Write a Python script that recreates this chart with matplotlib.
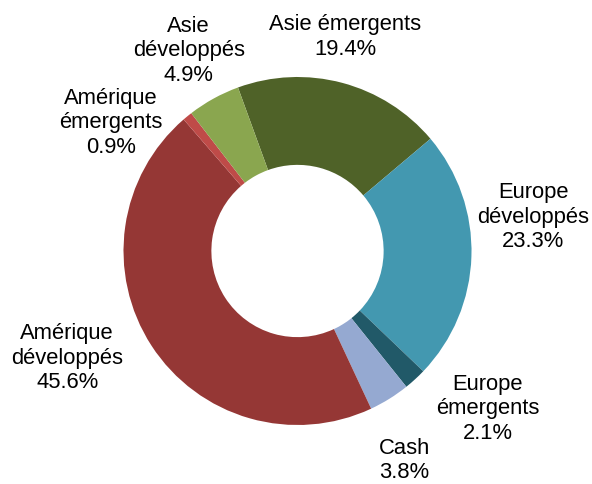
import matplotlib
matplotlib.use("Agg")
import matplotlib.pyplot as plt
import numpy as np

categories = ["Asie émergents", "Europe développés", "Europe émergents", "Cash",
              "Amérique développés", "Amérique émergents", "Asie développés"]
values = [19.4, 23.3, 2.1, 3.8, 45.6, 0.9, 4.9]
label_texts = ["Asie émergents\n19.4%", "Europe\ndéveloppés\n23.3%", "Europe\némergents\n2.1%",
               "Cash\n3.8%", "Amérique\ndéveloppés\n45.6%", "Amérique\némergents\n0.9%",
               "Asie\ndéveloppés\n4.9%"]
colors = ["#4F6228", "#4398B0", "#215968", "#95A9D1", "#953735", "#BF4B48", "#8AA64F"]

# label placement (angle in degrees, distance in radii)
label_pos = [(77.5, 1.26), (8.2, 1.37), (-39.7, 1.42), (-63.0, 1.35),
             (205.0, 1.46), (145.5, 1.30), (118.5, 1.31)]

plt.rcParams['font.family'] = ['Liberation Sans', 'DejaVu Sans']

fig = plt.figure(figsize=(5.92, 4.84), dpi=100)
ax = fig.add_axes([0, 0, 1, 1])
R = 174.0
cx, cy = 297.5, 251.0

ax.pie(values, colors=colors, startangle=110, counterclock=False, radius=1.0,
       wedgeprops=dict(width=0.505, edgecolor='none', linewidth=0))
ax.set_xlim(-cx / R, (592 - cx) / R)
ax.set_ylim(-(484 - cy) / R, cy / R)
ax.set_aspect('equal')
ax.axis('off')

for txt, (ang, d) in zip(label_texts, label_pos):
    a = np.deg2rad(ang)
    ax.text(d * np.cos(a), d * np.sin(a), txt, ha='center', va='center',
            fontsize=15.8, color='black', linespacing=1.22, multialignment='center')

fig.savefig("out.png", dpi=100)
